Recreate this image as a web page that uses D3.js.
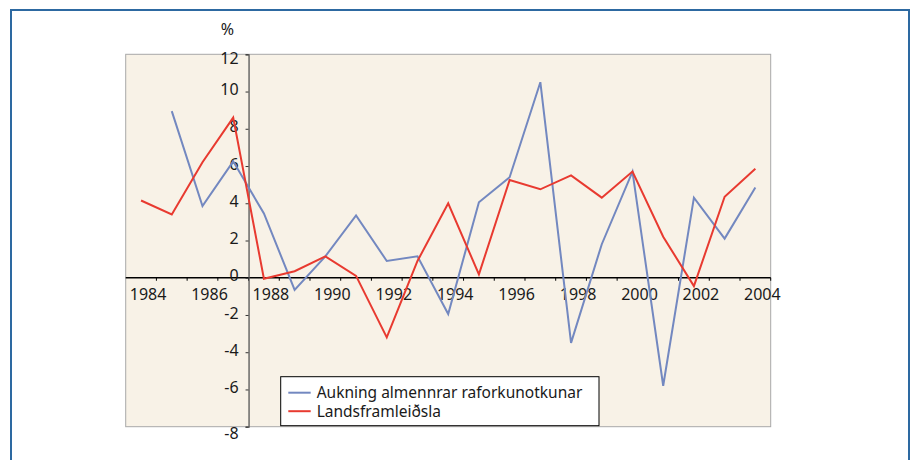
<!DOCTYPE html>
<html>
<head>
<meta charset="utf-8">
<script src="https://cdn.jsdelivr.net/npm/d3@7"></script>
<style>
    body { margin: 0; background: #fff; }
    svg { display: block; font-family: "Noto Sans", sans-serif; }
</style>
</head>
<body>
<svg id="chart" width="914" height="460"></svg>
<script>
// data
const years = d3.range(1984, 2005)
const yTicks = [-8, -6, -4, -2, 0, 2, 4, 6, 8, 10, 12]
const xLabelYears = [1984, 1986, 1988, 1990, 1992, 1994, 1996, 1998, 2000, 2002, 2004]

const seriesNames = ["Aukning almennrar raforkunotkunar", "Landsframleiðsla"]
const colors = ["#7388c0", "#e83a30"]

// Aukning almennrar raforkunotkunar (starts 1985)
const electricity = [null, 8.95, 3.85, 6.25, 3.45, -0.65, 1.15, 3.35, 0.9, 1.15, -1.95,
    4.05, 5.4, 10.5, -3.5, 1.8, 5.7, -5.8, 4.3, 2.1, 4.85]
// Landsframleiðsla
const gdp = [4.15, 3.4, 6.2, 8.6, -0.05, 0.35, 1.15, 0.1, -3.2, 0.9, 4.0,
    0.18, 5.25, 4.75, 5.5, 4.3, 5.7, 2.2, -0.45, 4.35, 5.85]

const svg = d3.select("#chart")
const textColor = "#1a1a1a"

const plot = { left: 125.7, right: 770.7, top: 54.3, bottom: 426.7 }

// outer frame
svg.append("rect")
    .attr("x", 11)
    .attr("y", 10)
    .attr("width", 898)
    .attr("height", 470)
    .attr("fill", "none")
    .attr("stroke", "#2d69a1")
    .attr("stroke-width", 2)

// plot area
svg.append("rect")
    .attr("x", plot.left)
    .attr("y", plot.top)
    .attr("width", plot.right - plot.left)
    .attr("height", plot.bottom - plot.top)
    .attr("fill", "#f8f2e7")
    .attr("stroke", "#a8a8a8")
    .attr("stroke-width", 1)

const xScale = d3.scaleBand()
    .domain(years)
    .range([plot.left, plot.right])
    .padding(0)
const yScale = d3.scaleLinear()
    .domain([-8, 12])
    .range([plot.bottom, plot.top])

const axisX = xScale(1988)
const zeroY = yScale(0)

// x axis: ticks at the category boundaries
const xAxis = svg.append("g").attr("class", "x-axis")
xAxis.append("line")
    .attr("x1", plot.left).attr("x2", plot.right)
    .attr("y1", zeroY).attr("y2", zeroY)
    .attr("stroke", "#000")
    .attr("stroke-width", 1.3)
xAxis.selectAll(".xtick")
    .data(years.slice(1).concat([null]))
    .enter()
    .append("line")
    .attr("x1", (d) => d === null ? plot.right : xScale(d))
    .attr("x2", (d) => d === null ? plot.right : xScale(d))
    .attr("y1", zeroY)
    .attr("y2", zeroY + 3)
    .attr("stroke", "#000")
xAxis.selectAll(".xlabel")
    .data(xLabelYears)
    .enter()
    .append("text")
    .attr("x", (d) => xScale(d) + xScale.bandwidth() / 2 + 7)
    .attr("y", zeroY + 22.5)
    .attr("text-anchor", "middle")
    .attr("font-size", 16)
    .attr("fill", textColor)
    .text((d) => d)

// y axis
const yAxis = svg.append("g")
    .attr("transform", `translate(${axisX},0)`)
    .call(d3.axisLeft(yScale).tickValues(yTicks).tickSize(3).tickPadding(7).tickFormat(d3.format("d")))
yAxis.select(".domain").attr("stroke", "#555").attr("stroke-width", 1.3)
yAxis.selectAll(".tick line").attr("stroke", "#333")
yAxis.selectAll(".tick text")
    .attr("font-size", 16)
    .attr("font-family", "Noto Sans, sans-serif")
    .attr("fill", textColor)
    .attr("dy", (d) => d === 12 ? "0.56em" : d === -8 ? "0.72em" : "0.2em")
    .text((d) => d < 0 ? "-" + Math.abs(d) : d)

svg.append("text")
    .attr("x", 227.5)
    .attr("y", 35)
    .attr("text-anchor", "middle")
    .attr("font-size", 16)
    .attr("fill", textColor)
    .text("%")

// lines
const line = d3.line()
    .defined((d) => d !== null)
    .x((d, i) => xScale(years[i]) + xScale.bandwidth() / 2)
    .y((d) => yScale(d))

;[electricity, gdp].forEach((data, index) => {
    svg.append("path")
        .datum(data)
        .attr("d", line)
        .attr("fill", "none")
        .attr("stroke", colors[index])
        .attr("stroke-width", 2)
        .attr("stroke-linejoin", "miter")
})

// legend
const legend = svg.append("g")
legend.append("rect")
    .attr("x", 280.7)
    .attr("y", 376.7)
    .attr("width", 318.3)
    .attr("height", 49)
    .attr("fill", "#fff")
    .attr("stroke", "#000")
    .attr("stroke-width", 1)
seriesNames.forEach((name, index) => {
    const rowY = 392.7 + index * 18.5
    legend.append("line")
        .attr("x1", 288.3)
        .attr("x2", 310.7)
        .attr("y1", rowY)
        .attr("y2", rowY)
        .attr("stroke", colors[index])
        .attr("stroke-width", 2)
    legend.append("text")
        .attr("x", 316.7)
        .attr("y", rowY + 5.5)
        .attr("font-size", 15.5)
        .attr("fill", textColor)
        .text(name)
})
</script>
</body>
</html>
